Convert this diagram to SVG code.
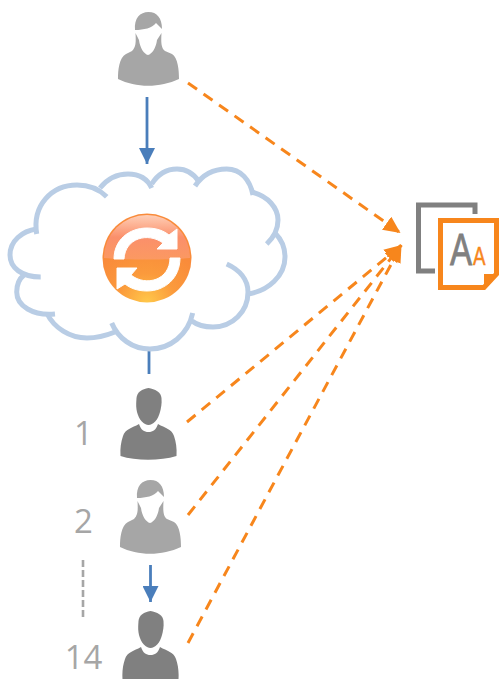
<svg xmlns="http://www.w3.org/2000/svg" width="500" height="679" viewBox="0 0 500 679">
<style>
.lbl{font-family:"Open Sans","Noto Sans",sans-serif;font-size:33px;fill:#a6a6a6;text-anchor:middle}
.blue{fill:none;stroke:#4a7ebb;stroke-width:2.8}
.org{fill:none;stroke:#f7861c;stroke-width:3;stroke-dasharray:11 8}
.cloud{fill:none;stroke:#b9cde5;stroke-width:5}
</style>
<defs>
<filter id="soft" x="-10%" y="-10%" width="120%" height="120%"><feGaussianBlur stdDeviation="0.6"/></filter>
<marker id="bh" markerUnits="userSpaceOnUse" markerWidth="16" markerHeight="16" refX="16" refY="8" orient="auto"><path d="M0 0L16 8L0 16Z" fill="#4a7ebb"/></marker>
<marker id="oh" markerUnits="userSpaceOnUse" markerWidth="18" markerHeight="18" refX="17" refY="8" orient="auto"><path d="M0 0L17 8L0 16Z" fill="#f7861c"/></marker>
<radialGradient id="glow" cx="50%" cy="100%" r="65%"><stop offset="0" stop-color="#ffc84a"/><stop offset="0.5" stop-color="#fb9a3c"/><stop offset="1" stop-color="#f98b3a"/></radialGradient>
<linearGradient id="gloss" x1="0" y1="0" x2="0" y2="1"><stop offset="0" stop-color="#ffd6c4"/><stop offset="0.5" stop-color="#fb9070"/><stop offset="1" stop-color="#fb9a66"/></linearGradient>
<symbol id="woman" overflow="visible">
<g filter="url(#soft)" fill="#a6a6a6">
<path d="M135 30C134 18 140 12 148.500 12C157 12 162 18 162 29L156 23C152 28 144 30 135 30Z"/>
<path d="M135.500 33L139 40C140 48 144 54 148 55C152 54 156 48 157 40L161.500 33C161 42 161 48 165 51L172 54C178 58 179 70 179 79C160 88 136 88 118 79C118 70 119 58 126 54L132 51C136 47 136 42 135.500 33Z"/>
</g>
</symbol>
<symbol id="man" overflow="visible">
<g filter="url(#soft)" fill="#808080">
<path d="M148.500 388C155 389 161 392 161.500 398C162 404 161 408 160 412C158 420 153 425 148.500 425C144 425 139 420 137 412C136 408 136 404 136.500 398C137 392 142 389 148.500 388Z"/>
<path d="M139 424C141 430 144 432 148.500 432C153 432 156 430 158 424C165 428 172 429 174 436C176 442 177 448 176.500 456C160 461 136 461 120.500 456C120 448 121 442 123 436C125 429 132 428 139 424Z"/>
</g>
</symbol>
</defs>
<rect width="500" height="679" fill="#fff"/>
<g id="connectors">
<line class="blue" x1="147" y1="97" x2="147" y2="164" marker-end="url(#bh)"/>
<line class="blue" x1="149" y1="351" x2="149" y2="374"/>
<line class="blue" x1="150.500" y1="565" x2="150.500" y2="602" marker-end="url(#bh)"/>
<line class="org" x1="188" y1="83" x2="400.500" y2="233" marker-end="url(#oh)"/>
<line class="org" x1="187" y1="422" x2="401.500" y2="245" marker-end="url(#oh)"/>
<line class="org" x1="188" y1="515" x2="401.500" y2="245" marker-end="url(#oh)"/>
<line class="org" x1="188" y1="643" x2="401.500" y2="245" marker-end="url(#oh)"/>
<line x1="83" y1="560" x2="83" y2="619" fill="none" stroke="#a6a6a6" stroke-width="2.600" stroke-dasharray="7 3"/>
</g>
<g id="user-top"><use href="#woman"/></g>
<g id="cloud">
<path class="cloud" d="M36.700 234C32 205 52 185 77 185C90 185 100 190 106.700 196.700"/>
<path class="cloud" d="M100 188C108 178 118 174 128 174C138 174 147 178 151.700 188"/>
<path class="cloud" d="M151.700 184C158 174 167 169 177 169C186 169 194 174 199 181.700"/>
<path class="cloud" d="M195 186C203 174 214 169 226.700 169C241 169 250 180 253 195"/>
<path class="cloud" d="M251.700 192C268 196 278 208 278 220C278 230 273 238 266.700 244"/>
<path class="cloud" d="M275 233C282 240 285 248 285 257C285 276 268 291 248 294"/>
<path class="cloud" d="M226.700 264C240 270 248 280 248 292C248 312 232 327 213 327C205 327 197 325 192 321"/>
<path class="cloud" d="M192.700 313C188 335 170 349 150 349C132 349 118 338 111.700 323"/>
<path class="cloud" d="M115 332C105 336 96 338 87 338C70 338 54 328 46.700 313"/>
<path class="cloud" d="M55 314C33 316 16.700 306 16.700 292C16.700 285 19 279 24 275"/>
<path class="cloud" d="M40.700 277C22 277 10 268 10 255C10 241 22 231 36.700 229"/>
</g>
<g id="sync-icon">
<circle cx="147" cy="258" r="44.500" fill="url(#glow)"/>
<path d="M104 258A43 43 0 0 1 190 258C170 260 125 260 104 258Z" fill="url(#gloss)" opacity="0.900"/>
<path d="M114 259C114 240 129 228 147 228C157 228 164 231 169 235L177 229L177 249L157 249L163 243C148 232 125 238 124 259Z" fill="#fff" stroke="#fff" stroke-width="1"/>
<path d="M180 258C180 278 165 291 147 291C137 291 130 288 125 284L117 289L117 268L137 268L131 275C146 287 170 280 170 258Z" fill="#fff" stroke="#fff" stroke-width="1"/>
</g>
<g id="document">
<path d="M475 214V205H418.500V271H435" fill="none" stroke="#808080" stroke-width="5"/>
<path d="M440.500 220.500H496.500V274L484 287.500H440.500Z" fill="#fff" stroke="#f7861c" stroke-width="5"/>
<path d="M484 287.500V274H496.500Z" fill="#f7861c"/>
<text transform="translate(450 265) scale(0.75 1)" font-family="'Liberation Sans',sans-serif" font-size="44" fill="#808080" stroke="#808080" stroke-width="0.800">A</text>
<text transform="translate(473 265) scale(0.75 1)" font-family="'Liberation Sans',sans-serif" font-size="25" fill="#f7861c" stroke="#f7861c" stroke-width="0.500">A</text>
</g>
<g id="user-1"><use href="#man"/><text class="lbl" x="83.500" y="445">1</text></g>
<g id="user-2"><use href="#woman" x="2" y="468"/><text class="lbl" x="83.500" y="533">2</text></g>
<g id="user-14"><use href="#man" x="2" y="223"/><text class="lbl" x="83.500" y="669">14</text></g>
</svg>
